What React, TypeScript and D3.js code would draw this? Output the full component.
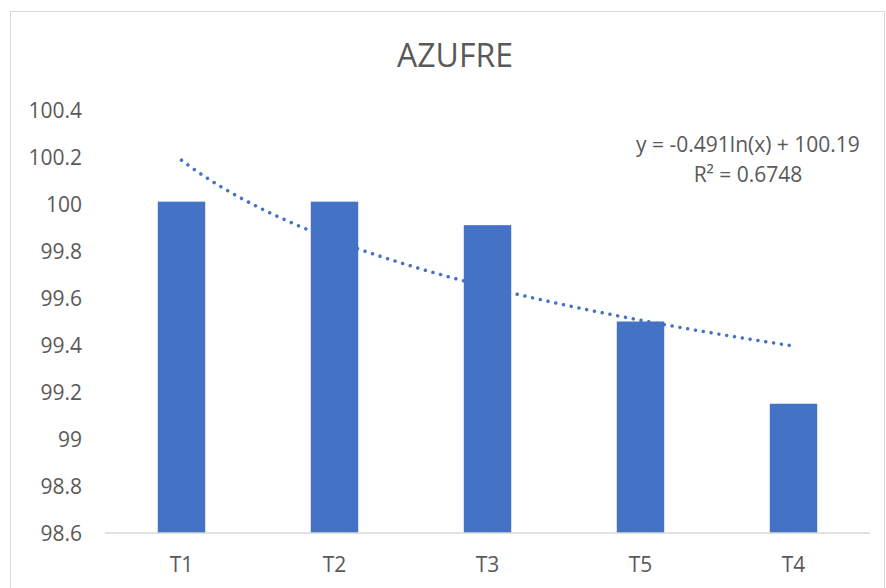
import React from "react";
import * as d3 from "d3";

const categories = ["T1", "T2", "T3", "T5", "T4"];
const values = [100.01, 100.01, 99.91, 99.5, 99.15];
const yTicks = [98.6, 98.8, 99, 99.2, 99.4, 99.6, 99.8, 100, 100.2, 100.4];
const titleText = "AZUFRE";
const equationLines = ["y = -0.491ln(x) + 100.19", "R² = 0.6748"];

const W = 886;
const H = 588;
const FONT = "'Open Sans', 'Liberation Sans', sans-serif";
const TEXT = "#595959";
const BAR = "#4472C4";

export default function App() {
  const x = d3.scaleBand<string>().domain(categories).range([105, 870]).paddingInner(0.69).paddingOuter(0.345);
  const y = d3.scaleLinear().domain([98.6, 100.4]).range([533, 110]);

  // logarithmic trendline fit from the data
  const lx = values.map((_, i) => Math.log(i + 1));
  const mx = d3.mean(lx) as number;
  const my = d3.mean(values) as number;
  const sxy = d3.sum(lx.map((l, i) => (l - mx) * (values[i] - my)));
  const sxx = d3.sum(lx.map((l) => (l - mx) * (l - mx)));
  const b = sxy / sxx;
  const a = my - b * mx;

  const c0 = (x(categories[0]) as number) + x.bandwidth() / 2;
  const step = x.step();
  const pts = d3.range(0, 201).map((k) => 1 + (k / 200) * (categories.length - 1));
  const line = d3
    .line<number>()
    .x((t) => c0 + (t - 1) * step)
    .y((t) => y(a + b * Math.log(t)))
    .curve(d3.curveLinear);

  return (
    <svg width={W} height={H} style={{ position: "absolute", left: 0, top: 0 }} fontFamily={FONT}>
      <rect x={0} y={0} width={W} height={H} fill="#fff" />
      <rect x={10.5} y={11.5} width={874} height={600} fill="none" stroke="#d9d9d9" strokeWidth={1} />
      <text x={455} y={67} textAnchor="middle" fontSize={32} fill={TEXT}>
        {titleText}
      </text>
      {yTicks.map((t) => (
        <text key={t} x={82} y={y(t) + 7.5} textAnchor="end" fontSize={21} fill={TEXT}>
          {String(t)}
        </text>
      ))}
      <path d={line(pts) || ""} fill="none" stroke={BAR} strokeWidth={3.5} strokeDasharray="0.01 7.9" strokeLinecap="round" />
      {categories.map((c, i) => (
        <rect key={c} x={x(c)} y={y(values[i])} width={x.bandwidth()} height={y(98.6) - y(values[i])} fill={BAR} />
      ))}
      <line x1={105} x2={870} y1={533} y2={533} stroke="#d9d9d9" strokeWidth={1.5} />
      {categories.map((c) => (
        <text key={c} x={(x(c) as number) + x.bandwidth() / 2} y={572} textAnchor="middle" fontSize={21} fill={TEXT}>
          {c}
        </text>
      ))}
      {equationLines.map((s, i) => (
        <text key={i} x={748} y={152 + i * 30} textAnchor="middle" fontSize={21} fill={TEXT}>
          {s}
        </text>
      ))}
    </svg>
  );
}
